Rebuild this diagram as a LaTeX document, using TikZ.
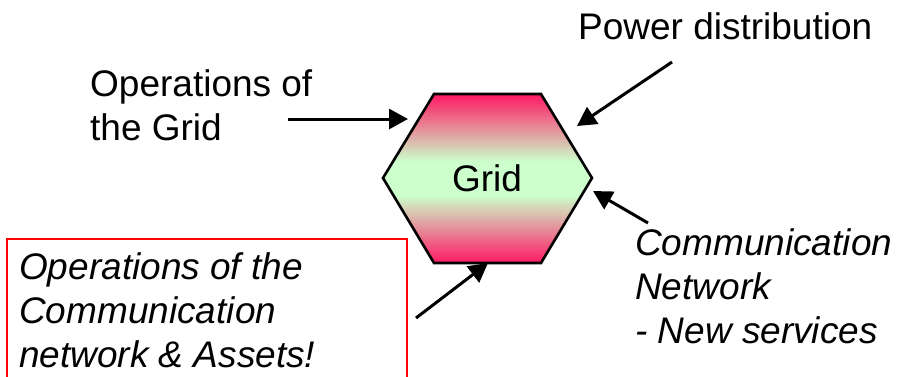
\documentclass[tikz,border=0pt]{standalone}
\usepackage{fontspec}
\setmainfont{Liberation Sans}
\usetikzlibrary{arrows.meta}
\definecolor{hred}{RGB}{255,25,100}
\definecolor{hgreen}{RGB}{204,255,204}
\definecolor{boxred}{RGB}{255,0,0}
\pgfdeclareverticalshading{hexshade}{100bp}{color(0bp)=(hred); color(25bp)=(hred); color(45bp)=(hgreen); color(55bp)=(hgreen); color(75bp)=(hred); color(100bp)=(hred)}
\begin{document}
\begin{tikzpicture}[x=1pt,y=-1pt,
  lbl/.style={font=\fontsize{37}{44}\selectfont, inner sep=0pt, anchor=base west, align=left},
  ilbl/.style={lbl, font=\fontsize{37}{44}\selectfont\itshape},
  arr/.style={line width=3pt, -{Triangle[length=19pt,width=20pt]}}]
\useasboundingbox (0,0) rectangle (900,376);
\clip (0,0) rectangle (900,376);
% hexagon
\shade[shading=hexshade] (434,94) -- (541,94) -- (592,178) -- (541,263) -- (434,263) -- (383,178) -- cycle;
\draw[line width=2.6pt, line join=miter] (434,94) -- (541,94) -- (592,178) -- (541,263) -- (434,263) -- (383,178) -- cycle;
\node[font=\fontsize{37}{44}\selectfont, inner sep=0pt] (grid) at (487,178) {Grid};
% red box
\draw[draw=boxred, line width=1.2pt] (7,400) -- (7,239) -- (407,239) -- (407,400);
% labels (anchored at the baseline of the last line)
\node[lbl] (ops) at (90,140) {Operations of\\the Grid};
\node[lbl] (pow) at (578,39) {Power distribution};
\node[ilbl] (comm) at (635,343) {Communication\\Network\\- New services};
\node[ilbl] (opsc) at (19,367) {Operations of the\\Communication\\network \& Assets!};
% arrow end points
\coordinate (a1s) at (288,119); \coordinate (a1e) at (408,119);
\coordinate (a2s) at (672,62);  \coordinate (a2e) at (577,126);
\coordinate (a3s) at (648,223); \coordinate (a3e) at (593,191);
\coordinate (a4s) at (416,318); \coordinate (a4e) at (488,263);
\draw[arr] (a1s) -- (a1e);
\draw[arr] (a2s) -- (a2e);
\draw[arr] (a3s) -- (a3e);
\draw[arr] (a4s) -- (a4e);
\end{tikzpicture}
\end{document}
